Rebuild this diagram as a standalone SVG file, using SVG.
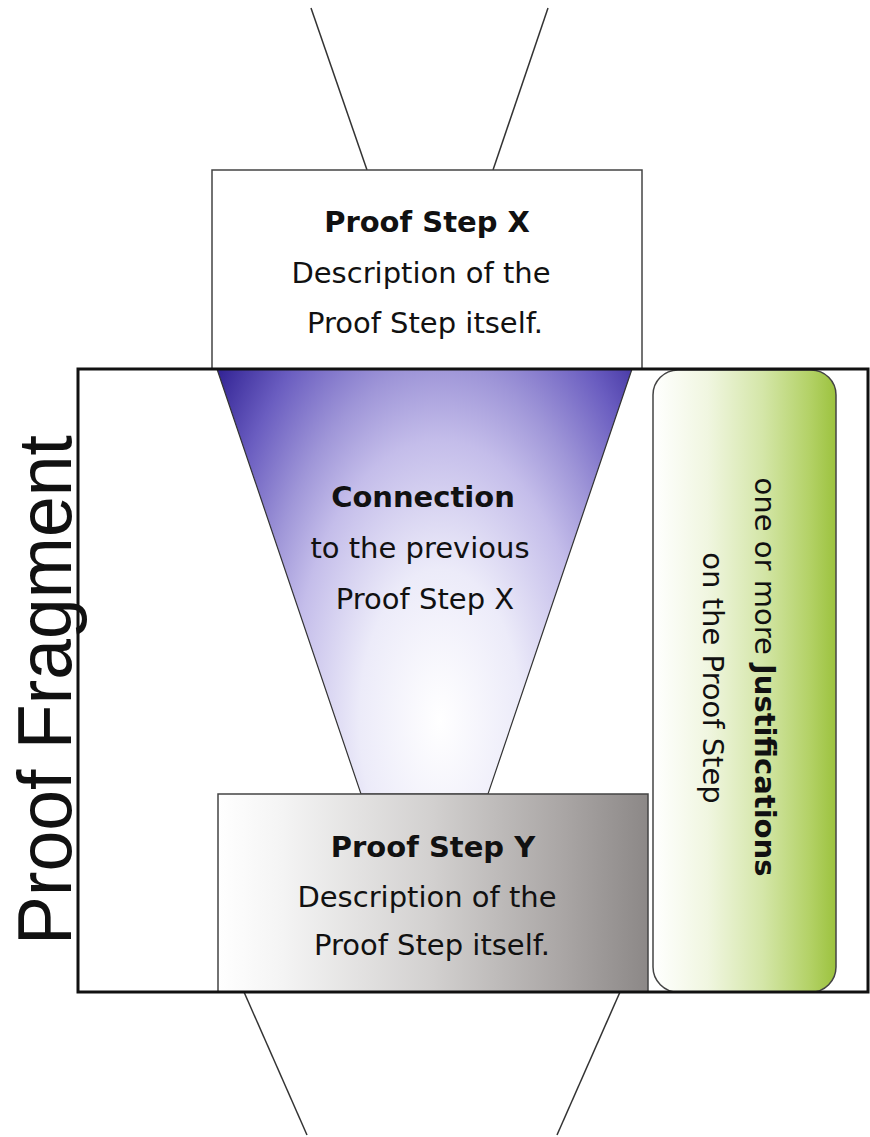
<svg xmlns="http://www.w3.org/2000/svg" width="870" height="1137" viewBox="0 0 870 1137">
  <style>
    .lbl { font-family: "DejaVu Sans", "Noto Sans", sans-serif; font-size: 29px; fill: #111; }
    .b { font-weight: bold; }
    .mid { text-anchor: middle; }
    .edge { stroke: #333; stroke-width: 1.5; fill: none; }
    .box { stroke: #444; stroke-width: 1.5; }
  </style>
  <defs>
    <radialGradient id="connGrad" gradientUnits="userSpaceOnUse" cx="0" cy="0" r="1.3" gradientTransform="translate(440,720) scale(230,430)">
      <stop offset="0" stop-color="#ffffff"/>
      <stop offset="0.27" stop-color="#ecebf9"/>
      <stop offset="0.5" stop-color="#c4bdea"/>
      <stop offset="0.63" stop-color="#9f96d8"/>
      <stop offset="0.8" stop-color="#6a5dc0"/>
      <stop offset="0.98" stop-color="#2f2092"/>
      <stop offset="1" stop-color="#2a1c8e"/>
    </radialGradient>
    <linearGradient id="stepGrad" x1="0" y1="0" x2="1" y2="0">
      <stop offset="0" stop-color="#ffffff"/>
      <stop offset="0.15" stop-color="#f4f4f4"/>
      <stop offset="0.5" stop-color="#d2d0cf"/>
      <stop offset="0.8" stop-color="#aaa6a5"/>
      <stop offset="1" stop-color="#8c8887"/>
    </linearGradient>
    <linearGradient id="justGrad" x1="0" y1="0" x2="1" y2="0">
      <stop offset="0" stop-color="#ffffff"/>
      <stop offset="0.3" stop-color="#f0f6e0"/>
      <stop offset="0.6" stop-color="#d4e6a8"/>
      <stop offset="0.85" stop-color="#b4d268"/>
      <stop offset="1" stop-color="#9cc23e"/>
    </linearGradient>
  </defs>

  <!-- fragment frame background -->
  <rect id="frame-bg" x="78" y="369" width="790" height="623" fill="#ffffff"/>

  <!-- links to neighbouring steps -->
  <g id="connectors">
    <line class="edge" x1="311" y1="8" x2="367" y2="170"/>
    <line class="edge" x1="548" y1="8" x2="493" y2="170"/>
    <line class="edge" x1="244" y1="992" x2="307" y2="1135"/>
    <line class="edge" x1="620" y1="992" x2="557" y2="1135"/>
  </g>

  <g id="connection">
    <polygon points="217,369 632,369 488,794 361,794" fill="url(#connGrad)" stroke="#333" stroke-width="1.2"/>
    <text class="lbl b mid" x="423" y="507" font-size="28">Connection</text>
    <text class="lbl mid" x="420" y="558">to the previous</text>
    <text class="lbl mid" x="425" y="609">Proof Step X</text>
  </g>

  <g id="step-y">
    <rect class="box" x="218" y="794" width="430" height="198" fill="url(#stepGrad)"/>
    <text class="lbl b mid" x="433" y="857">Proof Step Y</text>
    <text class="lbl mid" x="427" y="907">Description of the</text>
    <text class="lbl mid" x="432" y="955">Proof Step itself.</text>
  </g>

  <g id="justifications">
    <rect class="box" x="653" y="370" width="183" height="622" rx="25" ry="25" fill="url(#justGrad)"/>
    <text class="lbl mid" transform="translate(755,677) rotate(90)">one or more <tspan class="b">Justifications</tspan></text>
    <text class="lbl mid" transform="translate(703,678) rotate(90)">on the Proof Step</text>
  </g>

  <g id="step-x">
    <rect class="box" x="212" y="170" width="430" height="199" fill="#ffffff"/>
    <text class="lbl b mid" x="427" y="232">Proof Step X</text>
    <text class="lbl mid" x="421" y="283">Description of the</text>
    <text class="lbl mid" x="425" y="333">Proof Step itself.</text>
  </g>

  <!-- fragment frame border and title -->
  <g id="fragment">
    <rect x="78" y="369" width="790" height="623" fill="none" stroke="#111" stroke-width="3"/>
    <text transform="translate(71,945) rotate(-90)" font-family="Liberation Sans, Arial, sans-serif" font-size="76" fill="#111" textLength="510" lengthAdjust="spacingAndGlyphs">Proof Fragment</text>
  </g>
</svg>
